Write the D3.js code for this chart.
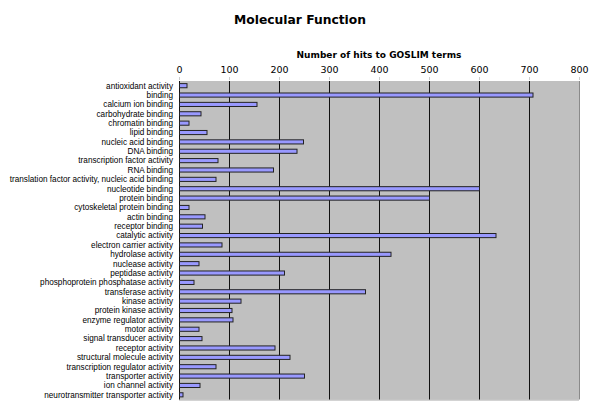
<!DOCTYPE html>
<html>
<head>
<meta charset="utf-8">
<script src="https://cdn.jsdelivr.net/npm/d3@7"></script>
<style>
body{margin:0;background:#fff;}
svg{display:block;}
</style>
</head>
<body>
<svg id="chart" width="600" height="411"></svg>
<script>
const categories = [
"antioxidant activity","binding","calcium ion binding","carbohydrate binding","chromatin binding",
"lipid binding","nucleic acid binding","DNA binding","transcription factor activity","RNA binding",
"translation factor activity, nucleic acid binding","nucleotide binding","protein binding",
"cytoskeletal protein binding","actin binding","receptor binding","catalytic activity",
"electron carrier activity","hydrolase activity","nuclease activity","peptidase activity",
"phosphoprotein phosphatase activity","transferase activity","kinase activity","protein kinase activity",
"enzyme regulator activity","motor activity","signal transducer activity","receptor activity",
"structural molecule activity","transcription regulator activity","transporter activity",
"ion channel activity","neurotransmitter transporter activity"];
const values = [15,707,155,43,19,55,248,235,77,188,73,600,500,19,51,46,633,85,423,39,210,29,372,123,105,107,39,45,191,221,73,250,41,7];
const tickValues = [0,100,200,300,400,500,600,700,800];
const title = "Molecular Function";
const axisTitle = "Number of hits to GOSLIM terms";

const svg = d3.select("#chart");
const pL = 179, pR = 579, pT = 81, pB = 399.5;

const x = d3.scaleLinear().domain([0,800]).range([pL,pR]);
const y = d3.scaleBand().domain(categories).range([pT,pB]).paddingInner(0.56).paddingOuter(0.28);

// plot background
svg.append("rect").attr("x",pL).attr("y",pT).attr("width",pR-pL).attr("height",pB-pT).attr("fill","#c0c0c0");
// right shadow edge
svg.append("line").attr("x1",pR+0.5).attr("x2",pR+0.5).attr("y1",pT).attr("y2",pB).attr("stroke","#8a8a8a").attr("stroke-width",1);
svg.append("line").attr("x1",pL).attr("x2",pR).attr("y1",pB+0.5).attr("y2",pB+0.5).attr("stroke","#a8a8a8").attr("stroke-width",1);

// gridlines
svg.append("g").selectAll("line").data(tickValues.slice(0,-1)).join("line")
  .attr("x1",d=>Math.round(x(d))+0.5).attr("x2",d=>Math.round(x(d))+0.5)
  .attr("y1",pT).attr("y2",pB)
  .attr("stroke","#111").attr("stroke-width",1);

// top axis
const ax = svg.append("g").attr("transform",`translate(0,${pT-1})`)
  .call(d3.axisTop(x).tickValues(tickValues).tickSize(3).tickPadding(4).tickFormat(d3.format("d")));
ax.select(".domain").remove();
ax.selectAll(".tick line").attr("stroke","#ccc");
ax.selectAll(".tick text").attr("font-family","DejaVu Sans, Verdana, sans-serif").attr("font-size","9.5px").attr("fill","#000");

// bars
svg.append("g").selectAll("rect").data(categories).join("rect")
  .attr("x",x(0)+0.5)
  .attr("y",d=>y(d))
  .attr("width",(d,i)=>x(values[i])-x(0))
  .attr("height",y.bandwidth())
  .attr("fill","#9999ff")
  .attr("stroke","#222")
  .attr("stroke-width",1);

// category labels
svg.append("g").selectAll("text").data(categories).join("text")
  .attr("x",173)
  .attr("y",d=>y(d)+y.bandwidth()/2)
  .attr("dy","0.35em")
  .attr("text-anchor","end")
  .attr("font-family","Liberation Sans, Arial, sans-serif")
  .attr("font-size","8.2px")
  .attr("fill","#000")
  .text(d=>d);

// titles
svg.append("text").attr("x",300).attr("y",24).attr("text-anchor","middle")
  .attr("font-family","DejaVu Sans, Verdana, sans-serif").attr("font-weight","bold").attr("font-size","12.3px").text(title);
svg.append("text").attr("x",(pL+pR)/2).attr("y",58).attr("text-anchor","middle")
  .attr("font-family","DejaVu Sans, Verdana, sans-serif").attr("font-weight","bold").attr("font-size","9px").text(axisTitle);
</script>
</body>
</html>
